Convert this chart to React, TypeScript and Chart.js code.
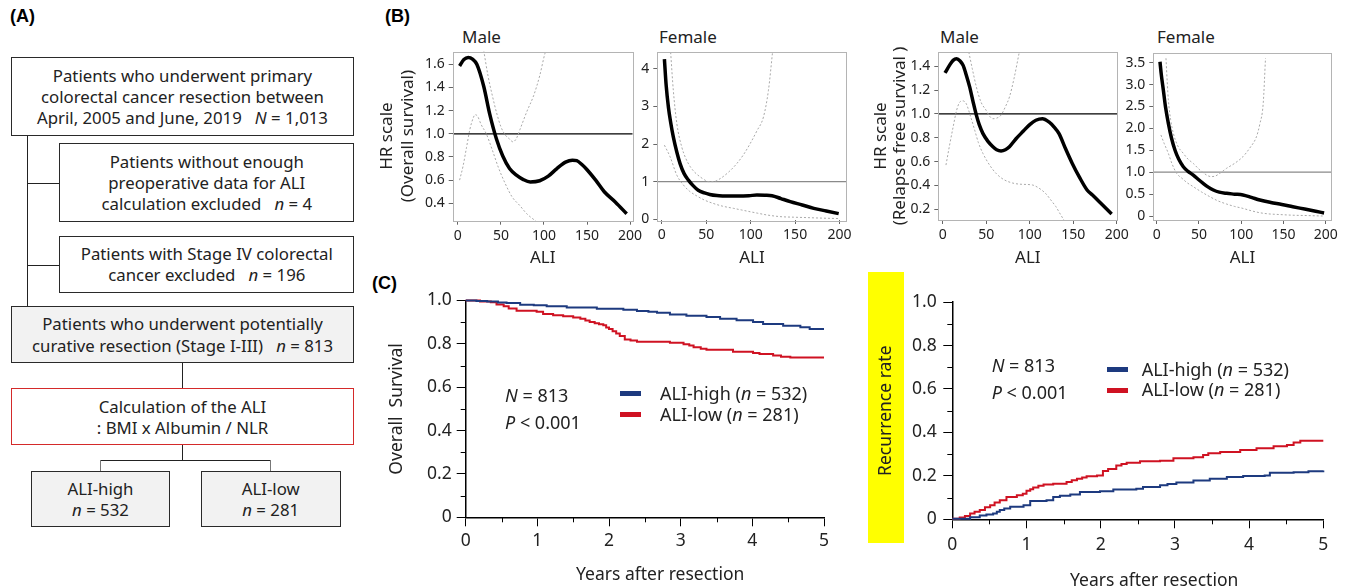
import React, { useEffect, useRef } from "react";
import { Chart, registerables } from "chart.js";

Chart.register(...registerables);

const FONT = '"Noto Sans", "Open Sans", sans-serif';

// ---------- (B) restricted cubic spline data ----------
const maleOsX = [2, 7, 12, 17, 22, 30, 37, 45, 52, 60, 68, 76, 84, 95, 105, 115, 125, 133, 138, 144, 150, 160, 170, 183, 196];
const maleOsHR = [1.585, 1.64, 1.658, 1.645, 1.6, 1.41, 1.17, 0.95, 0.81, 0.7, 0.643, 0.605, 0.585, 0.595, 0.635, 0.7, 0.755, 0.772, 0.768, 0.735, 0.69, 0.6, 0.5, 0.41, 0.31];
const maleOsUpX = [30, 35, 40, 45, 50, 55, 60, 64, 68, 72, 80, 88, 95, 101, 104];
const maleOsUpY = [1.72, 1.5, 1.33, 1.18, 1.06, 0.99, 0.955, 0.93, 0.96, 1.035, 1.19, 1.33, 1.5, 1.69, 1.75];
const maleOsLoX = [2, 6, 10, 14, 18, 20, 23, 27, 33, 40, 47, 55, 63, 72, 80, 90, 100];
const maleOsLoY = [0.6, 0.72, 0.88, 1.04, 1.14, 1.165, 1.15, 1.08, 1.0, 0.86, 0.71, 0.57, 0.455, 0.38, 0.31, 0.25, 0.2];

const femOsX = [3, 5, 7.5, 10, 13, 17, 20.6, 25, 30, 35, 41, 48, 54, 62, 69, 80, 88, 98, 107, 116, 124, 134, 144.5, 158, 171, 185, 199];
const femOsHR = [4.26, 3.55, 2.98, 2.58, 2.19, 1.78, 1.48, 1.22, 1.04, 0.9, 0.77, 0.7, 0.66, 0.63, 0.62, 0.615, 0.62, 0.625, 0.645, 0.64, 0.627, 0.55, 0.47, 0.38, 0.29, 0.22, 0.15];
const femOsUpX = [10, 13, 17, 22.5, 27, 32, 37, 43, 48, 52.5, 58, 65.7, 75, 84.4, 92, 99.4, 107, 114.4, 120, 124.6];
const femOsUpY = [4.44, 3.43, 2.54, 1.92, 1.62, 1.4, 1.25, 1.13, 1.05, 1.0, 1.0, 1.08, 1.25, 1.48, 1.72, 2.01, 2.35, 2.72, 3.43, 4.44];
const femOsLoX = [3, 9.4, 17, 24.4, 31, 39.4, 48, 58, 68, 80.7, 90, 99.4, 108, 118, 133, 148, 163, 180, 200];
const femOsLoY = [1.97, 1.66, 1.17, 0.91, 0.75, 0.62, 0.51, 0.42, 0.35, 0.29, 0.245, 0.2, 0.16, 0.115, 0.07, 0.055, 0.044, 0.03, 0.018];

const maleRfsX = [2.7, 8, 12, 16, 20, 23.5, 27, 31, 35, 38.7, 42, 46.3, 52, 57.7, 62, 67, 72, 76.7, 84, 91.8, 100, 107, 114.6, 122, 128, 133.6, 141, 148.8, 157, 165.8, 172, 181, 194];
const maleRfsHR = [1.344, 1.41, 1.45, 1.464, 1.445, 1.408, 1.33, 1.227, 1.1, 0.99, 0.91, 0.835, 0.77, 0.725, 0.7, 0.69, 0.7, 0.725, 0.79, 0.85, 0.91, 0.947, 0.96, 0.933, 0.89, 0.835, 0.71, 0.585, 0.47, 0.362, 0.319, 0.254, 0.16];
const maleRfsUpX = [30, 34, 38.7, 44, 50, 54, 57.7, 62, 67, 72, 76.7, 82, 88];
const maleRfsUpY = [1.52, 1.38, 1.227, 1.1, 1.03, 0.98, 0.96, 0.965, 0.99, 1.06, 1.143, 1.3, 1.52];
const maleRfsLoX = [3.8, 8, 12, 16, 19.7, 23, 27, 32, 36.8, 41, 46.3, 54, 61.5, 70, 80.5, 90, 103, 110, 118, 125, 130, 135, 140];
const maleRfsLoY = [0.571, 0.74, 0.89, 1.03, 1.1, 1.11, 1.087, 0.98, 0.864, 0.76, 0.668, 0.57, 0.5, 0.45, 0.42, 0.41, 0.404, 0.38, 0.334, 0.27, 0.222, 0.16, 0.1];

const femRfsX = [3.9, 5.5, 7.9, 10.5, 13.8, 17.5, 21.7, 26, 31.5, 37, 43.3, 49, 55, 61, 67, 74, 82.7, 92, 102, 112, 122, 135, 148, 161, 175, 188, 198];
const femRfsHR = [3.52, 3.22, 2.87, 2.48, 2.115, 1.78, 1.5, 1.3, 1.126, 1.02, 0.936, 0.84, 0.746, 0.66, 0.594, 0.545, 0.518, 0.5, 0.48, 0.425, 0.365, 0.31, 0.265, 0.213, 0.16, 0.11, 0.07];
const femRfsUpX = [11, 12.5, 13.8, 16.5, 19.7, 25, 31.5, 37, 43.3, 50, 59, 64, 69, 75, 82.7, 92, 102, 110, 118, 122, 126, 128.7];
const femRfsUpY = [3.6, 3.05, 2.65, 2.2, 1.89, 1.6, 1.43, 1.3, 1.2, 1.07, 0.936, 0.9, 0.91, 0.98, 1.09, 1.2, 1.355, 1.55, 1.81, 2.1, 2.57, 3.6];
const femRfsLoX = [5, 9, 13.8, 18, 23.6, 30, 36, 43.3, 53, 63, 72, 82.7, 92, 102, 112, 122, 132, 142, 160, 180, 198];
const femRfsLoY = [1.85, 1.65, 1.43, 1.2, 0.974, 0.86, 0.76, 0.67, 0.55, 0.44, 0.35, 0.274, 0.22, 0.175, 0.12, 0.076, 0.05, 0.038, 0.02, 0.01, 0.0];

const HR_REF = 1;

// ---------- (C) Kaplan-Meier data ----------
const osHighT = [0, 0.15, 0.3, 0.45, 0.57, 0.76, 0.95, 1.13, 1.41, 1.83, 2.2, 2.39, 2.55, 2.67, 2.85, 3.08, 3.36, 3.55, 3.78, 4.01, 4.15, 4.43, 4.67, 4.8, 5.0];
const osHighS = [1.0, 0.998, 0.995, 0.991, 0.988, 0.98, 0.978, 0.974, 0.968, 0.962, 0.957, 0.951, 0.948, 0.944, 0.936, 0.93, 0.924, 0.916, 0.909, 0.901, 0.892, 0.884, 0.877, 0.869, 0.869];
const osLowT = [0, 0.2, 0.35, 0.43, 0.53, 0.6, 0.71, 0.99, 1.08, 1.22, 1.36, 1.5, 1.6, 1.67, 1.73, 1.8, 1.86, 1.92, 1.96, 2.0, 2.05, 2.1, 2.15, 2.22, 2.3, 2.39, 2.85, 3.04, 3.12, 3.18, 3.28, 3.36, 3.73, 4.01, 4.1, 4.29, 4.4, 4.53, 5.0];
const osLowS = [1.0, 0.995, 0.992, 0.982, 0.973, 0.963, 0.953, 0.948, 0.938, 0.932, 0.927, 0.922, 0.916, 0.908, 0.901, 0.895, 0.89, 0.886, 0.876, 0.868, 0.858, 0.848, 0.836, 0.82, 0.815, 0.81, 0.805, 0.798, 0.792, 0.784, 0.778, 0.773, 0.764, 0.758, 0.753, 0.746, 0.741, 0.737, 0.737];

const rfsHighT = [0, 0.24, 0.37, 0.46, 0.55, 0.6, 0.64, 0.7, 0.78, 0.96, 1.05, 1.27, 1.36, 1.45, 1.59, 1.72, 1.99, 2.17, 2.48, 2.57, 2.8, 2.9, 3.02, 3.25, 3.47, 3.7, 3.92, 4.21, 4.28, 4.6, 4.8, 5.0];
const rfsHighR = [0.003, 0.009, 0.017, 0.022, 0.027, 0.035, 0.043, 0.05, 0.058, 0.065, 0.084, 0.088, 0.103, 0.108, 0.114, 0.126, 0.129, 0.137, 0.141, 0.149, 0.157, 0.163, 0.169, 0.179, 0.187, 0.195, 0.199, 0.202, 0.214, 0.217, 0.221, 0.225];
const rfsLowT = [0, 0.1, 0.17, 0.24, 0.3, 0.37, 0.44, 0.51, 0.57, 0.64, 0.73, 0.87, 0.95, 1.0, 1.05, 1.09, 1.16, 1.23, 1.36, 1.54, 1.61, 1.68, 1.75, 1.81, 1.95, 2.03, 2.1, 2.21, 2.28, 2.35, 2.53, 2.8, 2.98, 3.25, 3.38, 3.45, 3.61, 3.88, 4.1, 4.33, 4.51, 4.6, 4.69, 5.0];
const rfsLowR = [0.003, 0.008, 0.015, 0.027, 0.035, 0.043, 0.055, 0.065, 0.077, 0.088, 0.103, 0.111, 0.118, 0.131, 0.138, 0.146, 0.155, 0.16, 0.164, 0.172, 0.18, 0.187, 0.193, 0.198, 0.202, 0.222, 0.232, 0.248, 0.255, 0.26, 0.267, 0.27, 0.281, 0.286, 0.296, 0.304, 0.31, 0.319, 0.327, 0.336, 0.342, 0.354, 0.362, 0.362];

const kmYTicks = ["0", "0.2", "0.4", "0.6", "0.8", "1.0"];
const BLUE = "#1d3a7f";
const RED = "#cf1222";

const pts = (xs: number[], ys: number[]) => xs.map((x, i) => ({ x, y: ys[i] }));

// frame around B plots
const framePlugin = {
  id: "frame",
  afterDraw(chart: any, _a: any, opts: any) {
    if (!opts || !opts.color) return;
    const { ctx, chartArea: a } = chart;
    ctx.save();
    ctx.strokeStyle = opts.color;
    ctx.lineWidth = 1;
    ctx.strokeRect(Math.round(a.left) + 0.5, Math.round(a.top) + 0.5, Math.round(a.right - a.left), Math.round(a.bottom - a.top));
    ctx.restore();
  },
};

// minor ticks for C plots
const minorTickPlugin = {
  id: "minorTicks",
  afterDraw(chart: any, _a: any, opts: any) {
    if (!opts || !opts.len) return;
    const { ctx, chartArea: a, scales } = chart;
    ctx.save();
    ctx.strokeStyle = "#000";
    ctx.lineWidth = 1;
    const xs = scales.x, ys = scales.y;
    for (let v = xs.min + opts.x; v < xs.max; v += opts.x * 2) {
      const px = Math.round(xs.getPixelForValue(v)) + 0.5;
      ctx.beginPath();
      ctx.moveTo(px, a.bottom);
      ctx.lineTo(px, a.bottom + opts.len);
      ctx.stroke();
    }
    for (let v = ys.min + opts.y; v < ys.max; v += opts.y * 2) {
      const py = Math.round(ys.getPixelForValue(v)) + 0.5;
      ctx.beginPath();
      ctx.moveTo(a.left - opts.len, py);
      ctx.lineTo(a.left, py);
      ctx.stroke();
    }
    ctx.restore();
  },
};

type Box = { left: number; top: number; width: number; height: number };

function ChartBox({ box, config }: { box: Box; config: any }) {
  const ref = useRef<HTMLCanvasElement>(null);
  useEffect(() => {
    const chart = new Chart(ref.current as HTMLCanvasElement, config);
    return () => chart.destroy();
  }, []);
  return (
    <div style={{ position: "absolute", left: box.left, top: box.top, width: box.width, height: box.height }}>
      <canvas ref={ref} width={box.width} height={box.height} style={{ width: box.width, height: box.height, display: "block" }} />
    </div>
  );
}

type SplineSpec = {
  x: number[]; hr: number[]; upX: number[]; upY: number[]; loX: number[]; loY: number[];
  xMin: number; xMax: number; yMin: number; yMax: number; yStep: number; yDigits: number;
  refColor: string; yTitle?: string[]; yTitleLH?: number; yTitlePad?: number;
  padTop: number; padRight: number; yWidth: number; xHeight: number;
};

function splineConfig(s: SplineSpec) {
  const ci = { borderColor: "#a9a9a9", borderWidth: 1, borderDash: [2, 2], pointRadius: 0, cubicInterpolationMode: "monotone", fill: false };
  return {
    type: "line",
    data: {
      datasets: [
        { data: pts(s.x, s.hr), borderColor: "#000", borderWidth: 3.5, pointRadius: 0, cubicInterpolationMode: "monotone", fill: false },
        { data: pts(s.upX, s.upY), ...ci },
        { data: pts(s.loX, s.loY), ...ci },
        { data: [{ x: s.xMin, y: HR_REF }, { x: s.xMax, y: HR_REF }], borderColor: s.refColor, borderWidth: 1.2, pointRadius: 0 },
      ],
    },
    options: {
      responsive: false,
      animation: false,
      events: [],
      layout: { padding: { left: 0, top: s.padTop, right: s.padRight, bottom: 0 } },
      plugins: { legend: { display: false }, tooltip: { enabled: false }, frame: { color: "#b4b4b4" } },
      scales: {
        x: {
          type: "linear", min: s.xMin, max: s.xMax,
          ticks: { stepSize: 50, includeBounds: false, autoSkip: false, maxRotation: 0, padding: 3, color: "#222", font: { family: FONT, size: 14 } },
          grid: { display: true, drawOnChartArea: false, drawTicks: true, tickLength: 4, color: "#666" },
          border: { display: false },
          title: { display: true, text: "ALI", color: "#222", font: { family: FONT, size: 17, lineHeight: 1.2 }, padding: { top: 0, bottom: 6.8 } },
          afterFit: (sc: any) => { sc.height = s.xHeight; },
        },
        y: {
          type: "linear", min: s.yMin, max: s.yMax,
          ticks: {
            stepSize: s.yStep, includeBounds: false, autoSkip: false, padding: 4, color: "#222", font: { family: FONT, size: 14 },
            callback: (v: number) => (Math.abs(v) < 1e-9 ? "0" : v.toFixed(s.yDigits)),
          },
          grid: { display: true, drawOnChartArea: false, drawTicks: true, tickLength: 4, color: "#666" },
          border: { display: false },
          title: s.yTitle
            ? { display: true, text: s.yTitle, color: "#222", font: { family: FONT, size: 17, lineHeight: s.yTitleLH }, padding: { top: s.yTitlePad, bottom: 0 } }
            : { display: false },
          afterFit: (sc: any) => { sc.width = s.yWidth; },
        },
      },
    },
    plugins: [framePlugin],
  };
}

type KmSpec = {
  hiT: number[]; hiV: number[]; loT: number[]; loV: number[];
  yTitle: string; yTitlePad: number; padTop: number; padRight: number; yWidth: number; xHeight: number;
  yTickPad: number; xTickPad: number;
};

function kmConfig(s: KmSpec) {
  const common = { borderWidth: 2, pointRadius: 0, stepped: "before", fill: false, clip: 4 };
  return {
    type: "line",
    data: {
      datasets: [
        { data: pts(s.hiT, s.hiV), borderColor: BLUE, ...common },
        { data: pts(s.loT, s.loV), borderColor: RED, ...common },
      ],
    },
    options: {
      responsive: false,
      animation: false,
      events: [],
      layout: { padding: { left: 0, top: s.padTop, right: s.padRight, bottom: 0 } },
      plugins: { legend: { display: false }, tooltip: { enabled: false }, minorTicks: { x: 0.5, y: 0.1, len: 5 } },
      scales: {
        x: {
          type: "linear", min: 0, max: 5,
          ticks: { stepSize: 1, autoSkip: false, maxRotation: 0, padding: s.xTickPad, color: "#222", font: { family: FONT, size: 17.5 } },
          grid: { display: true, drawOnChartArea: false, drawTicks: true, tickLength: 9, color: "#000", lineWidth: 1 },
          border: { display: true, color: "#000", width: 1.5 },
          afterFit: (sc: any) => { sc.height = s.xHeight; },
        },
        y: {
          type: "linear", min: 0, max: 1,
          ticks: { stepSize: 0.2, autoSkip: false, padding: s.yTickPad, color: "#222", font: { family: FONT, size: 17.5 }, callback: (_v: number, i: number) => kmYTicks[i] },
          grid: { display: true, drawOnChartArea: false, drawTicks: true, tickLength: 9, color: "#000", lineWidth: 1 },
          border: { display: true, color: "#000", width: 1.5 },
          title: { display: true, text: s.yTitle, color: "#222", font: { family: FONT, size: 17.5, lineHeight: 1.2 }, padding: { top: s.yTitlePad, bottom: 0 } },
          afterFit: (sc: any) => { sc.width = s.yWidth; },
        },
      },
    },
    plugins: [minorTickPlugin],
  };
}

// ---------- HTML helpers ----------
function T({ x, y, size = 16, bold = false, family = FONT, children, color = "#222" }: any) {
  return (
    <div style={{ position: "absolute", left: x, top: y - size * 0.6, fontSize: size, lineHeight: `${size * 1.2}px`, fontWeight: bold ? 700 : 400, fontFamily: family, color, whiteSpace: "pre" }}>
      {children}
    </div>
  );
}

function FBox({ l, t, r, b, fill = "#fff", border = "#2a2a2a", children }: any) {
  return (
    <div
      style={{
        position: "absolute", left: l, top: t, width: r - l, height: b - t, boxSizing: "border-box",
        border: `1.3px solid ${border}`, background: fill, display: "flex", alignItems: "center", justifyContent: "center",
        textAlign: "center", fontSize: 16.8, lineHeight: "21.3px", color: "#222", fontFamily: FONT, whiteSpace: "pre",
      }}
    >
      <div>{children}</div>
    </div>
  );
}

function HLine({ x1, x2, y, color = "#222" }: any) {
  return <div style={{ position: "absolute", left: x1, top: y - 0.5, width: x2 - x1, height: 1.2, background: color }} />;
}
function VLine({ x, y1, y2, color = "#222" }: any) {
  return <div style={{ position: "absolute", left: x - 0.5, top: y1, width: 1.2, height: y2 - y1, background: color }} />;
}

function Swatch({ x1, x2, y, color }: any) {
  return <div style={{ position: "absolute", left: x1, top: y - 2.5, width: x2 - x1, height: 5, background: color }} />;
}

export default function App() {
  const maleOs = splineConfig({
    x: maleOsX, hr: maleOsHR, upX: maleOsUpX, upY: maleOsUpY, loX: maleOsLoX, loY: maleOsLoY,
    xMin: -6, xMax: 203, yMin: 0.25, yMax: 1.71, yStep: 0.2, yDigits: 1, refColor: "#000",
    yTitle: ["HR scale", "(Overall survival)"], yTitleLH: 21 / 17, yTitlePad: 6.8,
    padTop: 31.5, padRight: 17.3, yWidth: 82.7, xHeight: 54.3,
  });
  const femOs = splineConfig({
    x: femOsX, hr: femOsHR, upX: femOsUpX, upY: femOsUpY, loX: femOsLoX, loY: femOsLoY,
    xMin: -5, xMax: 208, yMin: -0.02, yMax: 4.46, yStep: 1, yDigits: 0, refColor: "#8a8a8a",
    padTop: 31.5, padRight: 18.3, yWidth: 27.3, xHeight: 55,
  });
  const maleRfs = splineConfig({
    x: maleRfsX, hr: maleRfsHR, upX: maleRfsUpX, upY: maleRfsUpY, loX: maleRfsLoX, loY: maleRfsLoY,
    xMin: -5, xMax: 200.5, yMin: 0.11, yMax: 1.52, yStep: 0.2, yDigits: 1, refColor: "#000",
    yTitle: ["HR scale", "(Relapse free survival )"], yTitleLH: 18.3 / 17, yTitlePad: 7.5,
    padTop: 32, padRight: 17.7, yWidth: 73.3, xHeight: 55,
  });
  const femRfs = splineConfig({
    x: femRfsX, hr: femRfsHR, upX: femRfsUpX, upY: femRfsUpY, loX: femRfsLoX, loY: femRfsLoY,
    xMin: -4, xMax: 207, yMin: -0.09, yMax: 3.72, yStep: 0.5, yDigits: 1, refColor: "#8a8a8a",
    padTop: 33, padRight: 20.3, yWidth: 33.3, xHeight: 55,
  });
  const kmOs = kmConfig({
    hiT: osHighT, hiV: osHighS, loT: osLowT, loV: osLowS, yTitle: "Overall  Survival", yTitlePad: 11.2,
    padTop: 13.3, padRight: 21, yWidth: 90.7, xHeight: 67.7, yTickPad: 5, xTickPad: 4,
  });
  const kmRfs = kmConfig({
    hiT: rfsHighT, hiV: rfsHighR, loT: rfsLowT, loV: rfsLowR, yTitle: "Recurrence rate", yTitlePad: 15.5,
    padTop: 15, padRight: 28.7, yWidth: 92.3, xHeight: 65.7, yTickPad: 6.6, xTickPad: 6,
  });

  const LBL = '"Liberation Sans", Arial, sans-serif';

  return (
    <div style={{ position: "absolute", left: 0, top: 0, width: 1352, height: 587, background: "#fff", overflow: "hidden", fontFamily: FONT }}>
      {/* panel letters */}
      <T x={10} y={17} size={18} bold family={LBL} color="#000">(A)</T>
      <T x={385} y={17} size={18} bold family={LBL} color="#000">(B)</T>
      <T x={372} y={284} size={18} bold family={LBL} color="#000">(C)</T>

      {/* (A) flowchart */}
      <FBox l={10.7} t={57.3} r={354.3} b={136}>
        {"Patients who underwent primary\ncolorectal cancer resection between\nApril, 2005 and June, 2019   "}<i>N</i>{" = 1,013"}
      </FBox>
      <VLine x={27.3} y1={136} y2={306} />
      <HLine x1={27.3} x2={59.3} y={183.3} />
      <HLine x1={27.3} x2={59.3} y={265.7} />
      <FBox l={59.3} t={143.3} r={354.3} b={221.7}>
        {"Patients without enough\npreoperative data for ALI\ncalculation excluded   "}<i>n</i>{" = 4"}
      </FBox>
      <FBox l={59.3} t={236} r={354.3} b={292.7}>
        {"Patients with Stage IV colorectal\ncancer excluded   "}<i>n</i>{" = 196"}
      </FBox>
      <FBox l={10.7} t={306} r={354.3} b={363.3} fill="#f2f2f2">
        {"Patients who underwent potentially\ncurative resection (Stage I-III)   "}<i>n</i>{" = 813"}
      </FBox>
      <VLine x={182.3} y1={363.3} y2={388.3} />
      <FBox l={10.7} t={388.3} r={354.3} b={445.3} border="#d42a2a">
        {"Calculation of the ALI\n: BMI x Albumin / NLR"}
      </FBox>
      <VLine x={182.3} y1={445.3} y2={460} />
      <HLine x1={100.7} x2={270.7} y={460} />
      <VLine x={100.7} y1={460} y2={470.7} color="#777" />
      <VLine x={270.7} y1={460} y2={470.7} color="#777" />
      <FBox l={30.7} t={470.7} r={170.3} b={527.3} fill="#f2f2f2">
        {"ALI-high\n"}<i>n</i>{" = 532"}
      </FBox>
      <FBox l={200.7} t={470.7} r={340.7} b={527.3} fill="#f2f2f2">
        {"ALI-low\n"}<i>n</i>{" = 281"}
      </FBox>

      {/* (B) spline plots */}
      <T x={462} y={37} size={17}>Male</T>
      <T x={659} y={37} size={17}>Female</T>
      <T x={940} y={37} size={17}>Male</T>
      <T x={1157} y={37} size={17}>Female</T>
      <ChartBox box={{ left: 370, top: 20, width: 280, height: 255 }} config={maleOs} />
      <ChartBox box={{ left: 630, top: 20, width: 235, height: 255 }} config={femOs} />
      <ChartBox box={{ left: 865, top: 20, width: 270, height: 255 }} config={maleRfs} />
      <ChartBox box={{ left: 1120, top: 20, width: 232, height: 255 }} config={femRfs} />

      {/* (C) KM plots */}
      <div style={{ position: "absolute", left: 868, top: 272, width: 35.7, height: 271, background: "#ffff00" }} />
      <ChartBox box={{ left: 375, top: 285, width: 470, height: 300 }} config={kmOs} />
      <ChartBox box={{ left: 860, top: 285, width: 492, height: 300 }} config={kmRfs} />

      <T x={576} y={573} size={17.5}>Years after resection</T>
      <T x={1070} y={579} size={17.5}>Years after resection</T>

      <T x={505} y={396} size={18}><i>N</i>{" = 813"}</T>
      <T x={505} y={422.7} size={18}><i>P</i>{" < 0.001"}</T>
      <Swatch x1={620} x2={640.7} y={393.3} color={BLUE} />
      <Swatch x1={620} x2={640.7} y={414.3} color={RED} />
      <T x={660} y={393.3} size={18}>{"ALI-high ("}<i>n</i>{" = 532)"}</T>
      <T x={660} y={414.3} size={18}>{"ALI-low ("}<i>n</i>{" = 281)"}</T>

      <T x={991.7} y={366} size={18}><i>N</i>{" = 813"}</T>
      <T x={991.7} y={392.3} size={18}><i>P</i>{" < 0.001"}</T>
      <Swatch x1={1107} x2={1127.7} y={369.3} color={BLUE} />
      <Swatch x1={1107} x2={1127.7} y={390} color={RED} />
      <T x={1141.7} y={369.3} size={18}>{"ALI-high ("}<i>n</i>{" = 532)"}</T>
      <T x={1141.7} y={390} size={18}>{"ALI-low ("}<i>n</i>{" = 281)"}</T>
    </div>
  );
}
